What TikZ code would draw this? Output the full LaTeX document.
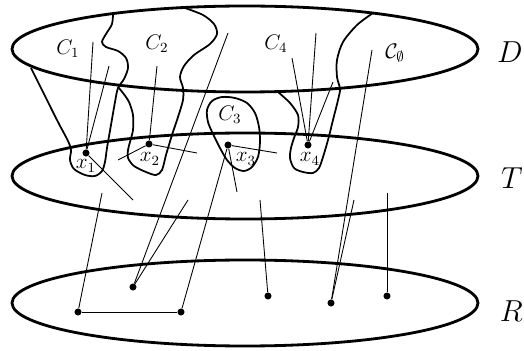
\documentclass[tikz,border=0pt]{standalone}
\usepackage{amsmath}
\usepackage{tikz}

\begin{document}
\begin{tikzpicture}[
  x=0.02cm, y=-0.02cm,
  set/.style={line width=1.6pt},
  blob/.style={line width=1pt},
  edge/.style={line width=0.5pt},
  dot/.style={circle, fill=black, inner sep=0pt, minimum size=4pt},
  lbl/.style={inner sep=0pt, font=\fontsize{12}{14}\selectfont},
  setname/.style={inner sep=0pt, anchor=east, font=\fontsize{16}{19}\selectfont}
]
\useasboundingbox (0,0) rectangle (524,351);

% the three sets
\draw[set] (245,49) ellipse [x radius=233, y radius=43];
\draw[set] (245,176) ellipse [x radius=233, y radius=43];
\draw[set] (245,303) ellipse [x radius=233, y radius=43];

\node (D) [setname] at (523,52) {$D$};
\node (T) [setname] at (523,178) {$T$};
\node (R) [setname] at (523,311) {$R$};

% components
\draw[blob] plot[smooth] coordinates {(113,13) (112,24) (106,34) (102,42) (106,47) (118,51) (126,58) (128,68) (124,79) (118,88) (115,102) (111,125) (107,148) (105,162) (102,171) (95,176) (85,175) (74,169) (70,160) (71,150) (68,141) (58,122) (46,98) (37,80) (31,68)};
\draw[blob] plot[smooth] coordinates {(185,8) (203,15) (214,24) (217,34) (210,44) (194,55) (184,66) (180,77) (183,88) (183,100) (178,117) (172,135) (166,155) (162,170) (156,175) (146,172) (134,166) (128,158) (128,150) (130,142) (133,130) (133,115) (129,102) (123,93) (118,87)};
\draw[blob] plot[smooth cycle] coordinates {(207,110) (212,101) (222,97) (235,98) (247,103) (255,113) (259,127) (260,142) (258,157) (252,167) (244,171) (235,168) (227,160) (220,148) (213,134) (208,122)};
\draw[blob] plot[smooth] coordinates {(278,92) (290,103) (298,115) (298,127) (294,138) (291,148) (290,158) (294,168) (303,172) (313,173) (319,168) (323,157) (328,140) (333,120) (338,100) (340,89) (337,77) (337,60) (343,42) (357,25) (373,13)};

\node (c1) [lbl] at (68,49) {$C_1$};
\node (c2) [lbl] at (157,44) {$C_2$};
\node (c3) [lbl] at (230,115) {$C_3$};
\node (c4) [lbl] at (276,44) {$C_4$};
\node (c0) [lbl] at (395,53) {$\mathcal{C}_\emptyset$};

% vertices of T
\node (x1) [dot] at (86,153) {};
\node (x2) [dot] at (149,144) {};
\node (x3) [dot] at (228,145) {};
\node (x4) [dot] at (308,145) {};
\node (lx1) [lbl] at (86,166) {$x_1$};
\node (lx2) [lbl] at (150,159) {$x_2$};
\node (lx3) [lbl] at (246,159) {$x_3$};
\node (lx4) [lbl] at (310,159) {$x_4$};

% vertices of R
\node (ra) [dot] at (78,312) {};
\node (rb) [dot] at (181,312) {};
\node (rc) [dot] at (133,287) {};
\node (rd) [dot] at (268,296) {};
\node (re) [dot] at (331,303) {};
\node (rf) [dot] at (387,296) {};

% loose ends
\coordinate (a1) at (93,42);
\coordinate (a2) at (109,66);
\coordinate (a3) at (133,200);
\coordinate (b1) at (157,66);
\coordinate (b2) at (118,160);
\coordinate (b3) at (197,153);
\coordinate (d1) at (277,153);
\coordinate (d2) at (237,192);
\coordinate (e1) at (292,58);
\coordinate (e2) at (316,33);
\coordinate (e3) at (333,82);
\coordinate (f1) at (228,33);
\coordinate (f2) at (188,200);
\coordinate (f3) at (102,193);
\coordinate (f4) at (260,200);
\coordinate (f5) at (372,50);
\coordinate (f6) at (354,200);
\coordinate (f7) at (387,193);

\draw[edge] (x1) -- (a1);
\draw[edge] (x1) -- (a2);
\draw[edge] (x1) -- (a3);
\draw[edge] (x2) -- (b1);
\draw[edge] (x2) -- (b2);
\draw[edge] (x2) -- (b3);
\draw[edge] (x3) -- (d1);
\draw[edge] (x3) -- (d2);
\draw[edge] (x3) -- (rb);
\draw[edge] (x4) -- (e1);
\draw[edge] (x4) -- (e2);
\draw[edge] (x4) -- (e3);
\draw[edge] (f1) -- (rc);
\draw[edge] (f2) -- (rc);
\draw[edge] (f3) -- (ra);
\draw[edge] (ra) -- (rb);
\draw[edge] (f4) -- (rd);
\draw[edge] (f5) -- (re);
\draw[edge] (f6) -- (re);
\draw[edge] (f7) -- (rf);

\end{tikzpicture}
\end{document}
